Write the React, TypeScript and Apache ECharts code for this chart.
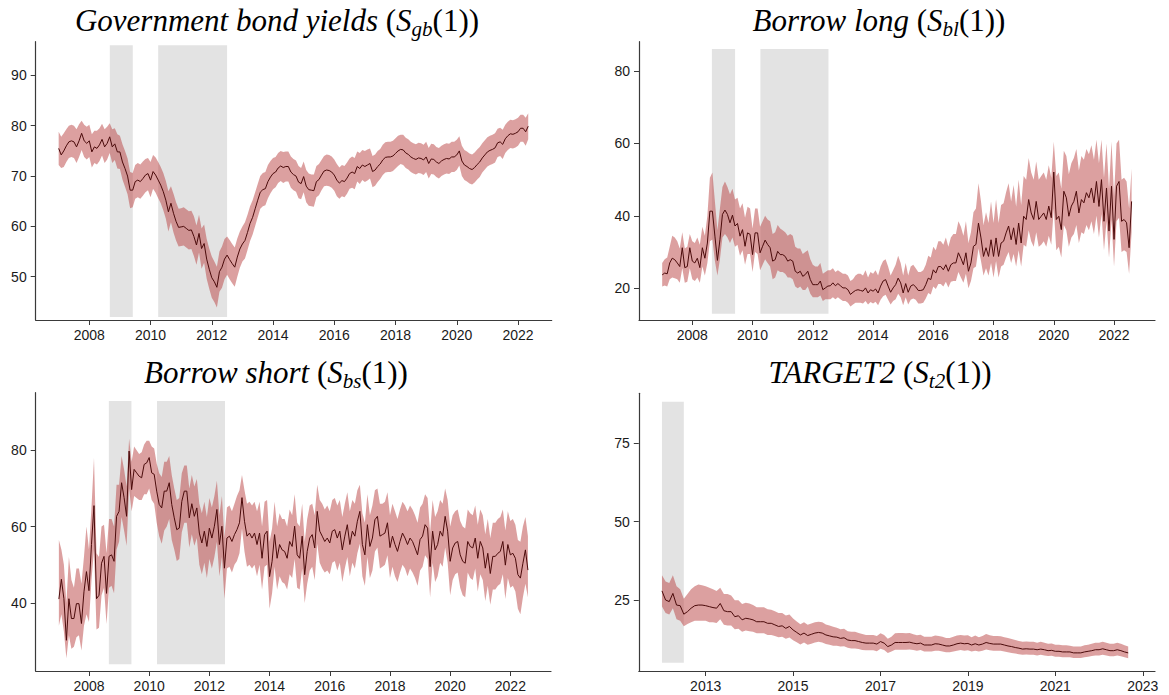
import React, { useEffect, useRef } from "react";
import * as echarts from "echarts";

// ---------------- DATA (monthly observations) ----------------
// Government bond yields, Jan 2007 - May 2022
const gbStart = 2007;
const gbMid = [
  75.5, 74.2, 75.0, 76.0, 76.8, 77.0, 76.8, 75.8, 77.0, 78.5, 77.0, 76.5,
  77.0, 74.8, 75.8, 75.5, 76.2, 77.3, 75.8, 76.5, 77.8, 75.8, 76.4, 74.8,
  74.8, 72.8, 71.5, 70.0, 67.2, 67.2, 68.9, 69.2, 68.9, 69.5, 70.2, 70.5,
  69.2, 70.9, 70.2, 69.2, 68.2, 66.9, 65.2, 62.9, 64.6, 62.6, 61.0, 59.8,
  59.9, 60.0, 59.6, 59.2, 59.3, 58.0, 56.3, 58.6, 55.6, 56.6, 53.5, 51.5,
  49.8, 49.0, 47.9, 51.0, 51.9, 53.5, 54.3, 53.4, 52.6, 51.9, 53.9, 55.5,
  56.5, 57.2, 58.8, 60.6, 61.8, 63.5, 65.2, 66.8, 67.3, 67.5, 68.9, 69.8,
  70.5, 70.8, 71.6, 72.0, 71.7, 71.9, 71.9, 70.8, 70.3, 70.0, 68.8, 68.5,
  69.9, 68.0, 67.3, 67.2, 67.1, 68.9, 69.3, 70.2, 71.0, 71.2, 71.1, 70.8,
  70.2, 69.2, 68.6, 69.1, 68.9, 69.6, 70.5, 70.8, 70.5, 71.9, 71.5, 72.2,
  71.9, 72.2, 72.5, 70.9, 71.2, 71.9, 72.4, 73.2, 73.7, 73.8, 73.8, 74.0,
  74.5, 75.0, 75.3, 75.2, 74.6, 74.3, 73.8, 73.5, 73.3, 73.6, 73.5, 73.2,
  73.8, 72.5, 73.4, 73.3, 72.8, 72.5, 73.0, 73.3, 73.5, 73.4, 73.8, 73.8,
  74.2, 75.0, 73.0, 72.2, 71.9, 71.5, 71.3, 71.7, 72.3, 72.8, 73.6, 74.2,
  74.8, 75.1, 75.3, 75.6, 76.6, 76.8, 76.3, 77.4, 78.0, 78.4, 78.3, 78.5,
  78.8, 79.5, 79.5, 78.8, 79.9,
];
const gbHi = [
  78.8, 77.8, 78.5, 79.3, 80.0, 80.2, 80.0, 79.3, 80.3, 81.0, 80.2, 79.8,
  80.2, 78.3, 79.0, 79.0, 79.5, 80.4, 79.3, 79.8, 80.5, 79.3, 79.5, 78.3,
  78.0, 76.3, 75.0, 73.5, 70.8, 70.6, 72.2, 72.6, 72.3, 72.9, 73.4, 73.6,
  72.8, 74.2, 73.7, 72.8, 71.8, 70.6, 69.0, 67.0, 68.0, 66.5, 64.8, 63.5,
  63.6, 63.8, 63.4, 63.0, 63.1, 62.0, 60.2, 62.3, 59.6, 60.4, 57.5, 55.6,
  54.0, 53.0, 52.0, 55.0, 56.0, 57.5, 58.0, 57.3, 56.5, 55.8, 57.6, 59.0,
  60.0, 60.8, 62.3, 64.0, 65.2, 66.8, 68.4, 70.0, 70.6, 70.8, 72.2, 73.0,
  73.6, 73.8, 74.6, 75.0, 74.8, 74.9, 74.9, 73.9, 73.4, 73.1, 72.0, 71.6,
  72.9, 71.2, 70.5, 70.3, 70.3, 72.0, 72.4, 73.2, 74.0, 74.3, 74.2, 73.9,
  73.3, 72.4, 71.7, 72.2, 72.0, 72.7, 73.5, 73.9, 73.6, 74.9, 74.6, 75.2,
  75.0, 75.3, 75.5, 74.0, 74.3, 75.0, 75.4, 76.2, 76.7, 76.8, 76.8, 77.0,
  77.5, 78.0, 78.2, 78.2, 77.6, 77.3, 76.8, 76.5, 76.3, 76.6, 76.5, 76.2,
  76.8, 75.6, 76.4, 76.3, 75.8, 75.6, 76.0, 76.3, 76.5, 76.4, 76.8, 76.8,
  77.2, 77.9, 76.0, 75.2, 74.9, 74.5, 74.3, 74.7, 75.3, 75.8, 76.5, 77.1,
  77.7, 78.0, 78.2, 78.5, 79.4, 79.6, 79.2, 80.2, 80.8, 81.2, 81.1, 81.3,
  81.6, 82.2, 82.2, 81.6, 82.5,
];
const gbLo = [
  72.2, 71.6, 71.8, 72.8, 73.6, 73.8, 73.6, 72.6, 73.8, 75.2, 73.8, 73.3,
  73.8, 71.7, 72.6, 72.3, 73.0, 74.1, 72.6, 73.3, 74.6, 72.6, 73.2, 71.5,
  71.4, 69.3, 67.9, 66.4, 63.6, 63.8, 65.5, 65.8, 65.5, 66.1, 66.8, 67.2,
  65.8, 67.5, 66.7, 65.6, 64.6, 63.2, 61.5, 59.0, 60.8, 58.8, 57.2, 56.0,
  56.1, 56.2, 55.8, 55.4, 55.5, 54.1, 52.4, 54.8, 51.6, 52.8, 49.6, 47.6,
  45.8, 45.0, 43.9, 47.0, 47.8, 49.5, 50.4, 49.5, 48.7, 48.0, 50.0, 51.8,
  53.0, 53.6, 55.3, 57.1, 58.4, 60.1, 61.8, 63.5, 64.0, 64.2, 65.6, 66.6,
  67.4, 67.8, 68.6, 69.0, 68.6, 68.9, 68.9, 67.7, 67.2, 66.9, 65.6, 65.4,
  66.8, 64.8, 64.1, 64.0, 63.9, 65.8, 66.2, 67.2, 68.0, 68.1, 68.0, 67.7,
  67.1, 66.0, 65.5, 66.0, 65.8, 66.5, 67.5, 67.7, 67.4, 68.9, 68.4, 69.2,
  68.8, 69.1, 69.5, 67.8, 68.1, 68.8, 69.4, 70.2, 70.7, 70.8, 70.8, 71.0,
  71.5, 72.0, 72.4, 72.2, 71.6, 71.3, 70.8, 70.5, 70.3, 70.6, 70.5, 70.2,
  70.8, 69.5, 70.4, 70.3, 69.8, 69.5, 70.0, 70.3, 70.5, 70.4, 70.8, 70.8,
  71.2, 72.1, 70.0, 69.2, 68.9, 68.5, 68.3, 68.7, 69.3, 69.8, 70.7, 71.3,
  71.9, 72.2, 72.4, 72.7, 73.8, 74.0, 73.4, 74.6, 75.2, 75.6, 75.5, 75.7,
  76.0, 76.8, 76.8, 76.0, 77.3,
];

// Borrow long, Jan 2007 - Aug 2022
const blStart = 2007;
const blMid = [
  23.7, 24.2, 24.0, 27.0, 28.3, 27.9, 27.0, 26.0, 31.2, 25.7, 26.0, 31.2,
  27.5, 27.0, 28.3, 25.7, 31.2, 28.3, 32.5, 41.3, 41.3, 34.4, 27.7, 33.4,
  40.4, 41.6, 40.4, 38.1, 40.2, 37.2, 37.9, 34.4, 36.2, 31.6, 35.3, 34.9,
  29.3, 35.3, 35.3, 29.8, 31.6, 33.3, 32.1, 31.2, 27.5, 27.9, 30.2, 29.3,
  29.3, 28.8, 27.5, 27.9, 27.5, 24.7, 24.2, 24.7, 23.3, 23.8, 24.7, 22.4,
  21.0, 21.0, 21.0, 22.0, 19.6, 20.1, 20.6, 20.7, 21.5, 20.7, 21.3, 20.7,
  20.1, 20.1, 19.6, 18.3, 18.9, 19.4, 19.6, 19.4, 19.2, 20.1, 18.7, 19.6,
  19.2, 19.8, 18.7, 20.6, 22.0, 22.4, 20.6, 18.9, 20.1, 21.0, 22.8, 21.5,
  18.7, 21.3, 18.9, 20.6, 21.0, 20.4, 19.4, 19.4, 19.6, 21.0, 22.8, 22.4,
  25.1, 24.2, 26.0, 26.0, 25.1, 26.5, 24.7, 26.5, 27.0, 27.0, 29.8, 28.3,
  26.5, 29.8, 24.7, 27.0, 31.6, 32.1, 38.0, 33.9, 28.8, 31.2, 28.8, 33.4,
  28.8, 33.9, 28.8, 32.5, 33.0, 35.3, 37.2, 33.4, 36.7, 32.1, 38.0, 32.5,
  39.9, 39.0, 44.5, 40.8, 39.0, 44.0, 39.0, 39.9, 40.8, 39.0, 42.7, 39.5,
  52.1, 39.0, 39.9, 36.2, 46.8, 45.0, 39.9, 42.7, 44.0, 46.8, 40.8, 44.5,
  43.6, 46.4, 45.0, 47.7, 43.6, 49.5, 42.6, 50.0, 38.5, 47.7, 35.8, 48.2,
  33.5, 48.2, 49.5, 38.5, 39.0, 38.1, 31.2, 44.0,
];
const blHi = [
  27.0, 28.0, 28.5, 31.5, 34.5, 34.0, 33.0, 31.0, 35.5, 31.0, 31.5, 35.0,
  33.0, 32.5, 34.0, 32.0, 37.0, 34.5, 40.0, 50.5, 52.0, 44.0, 36.0, 42.0,
  48.0, 49.5, 48.0, 46.0, 47.5, 44.5, 45.0, 42.0, 43.5, 39.5, 42.5, 42.0,
  36.5, 42.0, 42.0, 37.0, 38.5, 40.0, 39.0, 38.5, 35.0, 35.5, 37.5, 36.5,
  36.0, 35.5, 34.5, 35.0, 34.5, 31.5, 31.0, 31.0, 29.5, 30.0, 30.5, 28.0,
  26.5, 26.0, 26.0, 27.0, 24.0, 24.5, 25.0, 25.0, 25.5, 24.5, 25.0, 24.5,
  24.0, 24.0, 23.5, 22.0, 22.5, 23.5, 24.0, 24.0, 23.5, 25.0, 23.0, 24.5,
  24.0, 25.0, 23.5, 26.0, 27.5, 28.0, 26.0, 23.5, 25.0, 26.5, 29.0, 27.0,
  23.5, 27.0, 23.5, 26.0, 26.5, 25.5, 24.5, 24.5, 25.0, 26.5, 29.0, 28.5,
  31.5, 30.5, 33.0, 33.0, 32.0, 34.0, 31.5, 34.0, 35.0, 35.0, 38.5, 37.0,
  34.5, 38.5, 32.5, 35.5, 41.0, 42.0, 49.0, 44.0, 37.5, 41.0, 38.0, 44.0,
  38.0, 44.5, 38.0, 43.0, 43.5, 46.5, 49.0, 44.0, 48.5, 42.5, 50.0, 43.0,
  51.0, 50.0, 56.0, 52.0, 50.0, 55.0, 50.0, 51.0, 52.0, 50.0, 54.0, 50.5,
  60.5, 51.0, 52.0, 47.5, 58.0, 56.5, 51.5, 54.5, 56.0, 58.5, 52.5, 56.5,
  55.5, 58.5, 57.0, 59.5, 55.5, 61.0, 54.5, 61.0, 50.5, 60.0, 47.5, 60.5,
  45.5, 60.0, 61.0, 50.0, 50.5, 49.5, 42.0, 53.0,
];
const blLo = [
  20.5, 20.8, 20.5, 22.5, 23.0, 22.8, 22.5, 21.5, 25.5, 21.5, 21.8, 25.5,
  22.5, 22.0, 23.0, 21.5, 26.0, 23.5, 27.0, 33.0, 33.5, 27.5, 23.5, 28.0,
  34.0, 35.0, 34.0, 32.5, 34.0, 31.5, 32.0, 29.0, 30.5, 26.5, 29.5, 29.5,
  24.5, 30.0, 29.5, 25.0, 26.5, 28.0, 27.0, 26.0, 22.5, 23.0, 25.0, 24.5,
  24.5, 24.0, 23.0, 23.0, 22.5, 20.5, 20.0, 20.5, 19.5, 19.5, 20.5, 18.5,
  17.5, 17.5, 17.5, 18.0, 16.5, 17.0, 17.0, 17.0, 17.5, 17.0, 17.5, 17.0,
  16.5, 16.5, 16.0, 15.0, 15.5, 16.0, 16.0, 16.0, 15.8, 16.5, 15.5, 16.2,
  15.8, 16.3, 15.3, 16.8, 17.8, 18.2, 16.8, 15.5, 16.5, 17.0, 18.5, 17.5,
  15.3, 17.5, 15.5, 16.8, 17.2, 16.8, 15.8, 15.8, 16.0, 17.2, 18.7, 18.3,
  20.5, 19.8, 21.2, 21.2, 20.5, 21.8, 20.2, 21.8, 22.0, 22.0, 24.5, 23.0,
  21.5, 24.0, 20.0, 22.0, 25.5, 26.0, 31.0, 27.5, 23.5, 25.5, 23.5, 27.0,
  23.0, 27.5, 23.0, 26.0, 26.5, 28.5, 30.0, 27.0, 29.5, 26.0, 30.5, 26.0,
  32.0, 31.5, 36.0, 33.0, 31.5, 35.5, 31.5, 32.0, 33.0, 31.5, 34.5, 32.0,
  42.0, 30.5, 31.5, 28.5, 37.5, 36.0, 31.5, 34.0, 35.0, 37.5, 32.5, 35.5,
  35.0, 37.5, 36.0, 38.5, 35.0, 40.0, 34.0, 40.5, 30.5, 38.5, 28.5, 39.0,
  26.0, 38.5, 39.5, 30.0, 30.5, 30.0, 24.0, 35.5,
];

// Borrow short, Jan 2007 - Aug 2022
const bsStart = 2007;
const bsMid = [
  41.0, 46.2, 41.1, 30.2, 41.1, 35.9, 35.9, 39.8, 39.8, 34.6, 42.9, 48.2,
  43.2, 55.3, 65.5, 41.1, 42.0, 50.4, 52.2, 42.5, 52.2, 52.6, 50.9, 62.7,
  64.0, 71.5, 67.6, 62.7, 79.8, 69.7, 75.0, 74.1, 73.2, 72.8, 76.3, 76.7,
  78.1, 74.1, 73.7, 69.3, 65.8, 64.9, 69.3, 69.3, 71.5, 65.8, 62.3, 59.2,
  59.6, 66.6, 69.3, 69.3, 62.3, 66.0, 62.7, 64.9, 58.3, 55.7, 58.8, 54.8,
  59.6, 57.0, 60.1, 64.5, 55.3, 60.1, 49.1, 57.0, 57.5, 56.1, 57.9, 59.2,
  61.0, 67.6, 61.4, 57.5, 58.3, 57.0, 58.3, 55.3, 58.3, 51.7, 57.9, 58.8,
  46.9, 50.9, 57.9, 51.7, 55.3, 53.9, 53.5, 51.7, 56.1, 54.8, 60.1, 52.6,
  51.7, 57.5, 47.4, 53.5, 57.0, 57.9, 54.4, 64.0, 58.8, 57.5, 56.1, 57.0,
  55.7, 58.8, 59.2, 57.0, 58.8, 53.9, 57.5, 60.5, 55.3, 58.8, 57.5, 61.4,
  64.0, 55.3, 52.6, 60.5, 54.8, 57.0, 61.8, 62.7, 57.5, 57.9, 58.3, 61.0,
  54.5, 57.5, 55.3, 53.5, 56.1, 58.3, 57.0, 55.3, 57.0, 56.1, 54.4, 52.6,
  56.6, 57.5, 60.5, 59.6, 49.5, 58.8, 53.9, 55.3, 58.8, 57.5, 62.7, 58.8,
  50.9, 54.4, 55.7, 56.1, 52.6, 50.9, 50.4, 56.1, 54.8, 54.4, 57.0, 51.7,
  56.1, 54.4, 49.1, 53.0, 47.7, 52.2, 52.2, 53.0, 53.5, 56.1, 49.9, 55.3,
  52.6, 53.0, 51.7, 47.4, 46.5, 50.4, 53.9, 48.6,
];
const bsHi = [
  56.5, 54.0, 50.0, 40.0, 52.0, 46.0, 44.0, 49.0, 49.0, 45.0, 52.0, 60.0,
  54.0, 65.0, 78.0, 53.0, 52.0, 60.0, 60.5, 53.0, 62.0, 62.0, 60.0, 71.0,
  71.0, 78.5, 75.0, 70.5, 83.0, 77.0, 81.0, 80.0, 79.0, 79.5, 81.5, 82.5,
  82.5, 81.0, 80.5, 76.5, 74.0, 73.0, 77.0, 77.0, 78.5, 73.5, 70.0, 67.0,
  67.5, 74.0, 76.0, 76.0, 70.0, 73.5, 70.5, 72.5, 66.0, 63.5, 66.5, 62.5,
  67.5, 65.0, 68.0, 72.0, 63.0, 68.0, 57.0, 65.0, 65.5, 64.0, 66.0, 68.0,
  69.5, 73.5, 69.5, 66.0, 66.5, 65.5, 66.5, 64.0, 66.5, 60.0, 66.5, 67.0,
  56.0, 59.5, 66.5, 60.0, 63.5, 62.0, 62.0, 60.0, 64.5, 63.0, 68.5, 61.0,
  60.0, 66.0, 56.0, 62.0, 65.5, 66.0, 63.0, 71.0, 67.0, 66.0, 64.5, 65.5,
  64.0, 67.0, 67.5, 65.5, 67.0, 62.5, 66.0, 69.0, 64.0, 67.0, 66.0, 69.5,
  71.0, 63.5, 61.0, 68.5, 63.0, 65.5, 69.5, 70.0, 66.0, 66.0, 66.5, 69.0,
  63.0, 66.0, 64.0, 62.0, 64.5, 66.5, 65.5, 64.0, 65.5, 64.5, 63.0, 61.0,
  65.0, 66.0, 68.5, 67.5, 58.5, 67.0, 62.5, 64.0, 67.0, 66.0, 70.0, 67.0,
  60.0, 63.0, 64.0, 64.5, 61.5, 60.0, 59.5, 64.5, 63.5, 63.0, 65.5, 60.5,
  64.5, 63.0, 58.0, 62.0, 57.0, 61.0, 61.0, 62.0, 62.5, 64.5, 59.0, 64.0,
  61.5, 62.0, 60.5, 56.5, 56.0, 60.0, 62.5, 57.5,
];
const bsLo = [
  34.0, 37.0, 32.5, 25.5, 31.5, 28.0, 28.5, 31.0, 31.5, 27.5, 34.0, 37.0,
  35.0, 46.0, 54.0, 33.0, 33.5, 42.0, 44.0, 34.5, 44.0, 44.5, 42.5, 54.0,
  56.0, 62.5, 59.0, 55.0, 70.0, 64.0, 68.0, 67.5, 67.0, 67.0, 68.5, 68.5,
  70.0, 67.0, 66.0, 61.0, 57.5, 55.5, 59.0, 60.0, 62.0, 56.5, 54.0, 51.0,
  51.5, 58.5, 61.0, 61.0, 54.5, 58.0, 55.0, 57.0, 50.0, 47.5, 50.5, 46.5,
  51.5, 49.0, 52.0, 56.0, 47.0, 52.0, 41.0, 49.0, 49.5, 48.0, 50.0, 51.0,
  53.0, 59.5, 53.5, 49.5, 50.0, 49.0, 50.0, 47.0, 50.0, 43.5, 49.5, 50.0,
  38.5, 42.5, 49.5, 43.5, 47.0, 45.5, 45.0, 43.5, 47.5, 46.5, 51.5, 44.0,
  43.5, 49.0, 40.0, 45.0, 48.5, 49.5, 46.0, 55.5, 50.5, 49.0, 48.0, 48.5,
  47.5, 50.5, 51.0, 48.5, 50.5, 45.5, 49.0, 52.0, 47.0, 50.5, 49.0, 53.0,
  55.5, 47.0, 44.5, 52.0, 46.5, 48.5, 53.5, 54.5, 49.0, 49.5, 50.0, 52.5,
  46.5, 49.5, 47.0, 45.5, 48.0, 50.0, 49.0, 47.0, 49.0, 48.0, 46.5, 44.5,
  48.5, 49.5, 52.5, 51.5, 41.5, 50.5, 45.5, 47.0, 50.5, 49.5, 54.5, 50.5,
  42.0, 46.0, 47.5, 48.0, 44.0, 42.0, 41.5, 48.0, 46.5, 46.0, 49.0, 43.0,
  47.5, 46.0, 40.5, 44.5, 39.5, 43.5, 43.5, 44.5, 45.0, 47.5, 41.0, 46.5,
  44.0, 44.5, 43.0, 38.5, 37.0, 41.5, 45.0, 41.5,
];

// TARGET2, Jan 2012 - Sep 2022
const t2Start = 2012;
const t2Mid = [
  28.0, 25.1, 24.6, 27.2, 23.5, 23.3, 20.6, 21.4, 22.5, 23.3, 23.5, 23.5,
  23.3, 23.0, 22.7, 22.5, 24.0, 21.7, 21.4, 21.4, 19.8, 20.1, 18.8, 19.3,
  19.1, 18.8, 18.2, 18.2, 18.2, 17.7, 17.7, 17.2, 16.7, 16.9, 16.1, 16.7,
  15.6, 14.8, 14.0, 14.6, 13.8, 14.2, 14.6, 14.8, 14.6, 14.0, 13.7, 13.4,
  13.3, 12.9, 13.1, 12.4, 12.2, 12.2, 11.9, 11.6, 11.4, 11.4, 11.4, 11.1,
  11.9, 11.4, 10.3, 10.8, 11.6, 11.6, 11.6, 11.6, 11.7, 11.4, 11.2, 11.4,
  10.8, 10.8, 10.8, 11.2, 11.1, 10.8, 10.5, 10.5, 10.8, 11.2, 11.4, 11.2,
  11.3, 10.8, 11.2, 10.8, 11.1, 11.6, 11.3, 11.1, 11.1, 11.1, 10.8, 10.5,
  10.3, 10.0, 9.8, 9.5, 9.6, 9.5, 9.5, 9.3, 9.5, 9.3, 9.0, 9.1,
  8.8, 8.8, 8.6, 8.6, 8.6, 8.3, 8.3, 8.3, 8.6, 8.8, 9.0, 9.3,
  9.3, 9.6, 9.3, 9.0, 9.0, 9.3, 9.0, 8.6, 8.3,
];
const t2Hi = [
  33.0, 31.0, 30.5, 33.0, 29.5, 28.5, 25.5, 27.0, 28.5, 29.5, 30.0, 29.8,
  29.5, 29.0, 28.5, 28.0, 29.0, 27.0, 27.0, 26.5, 25.0, 25.0, 23.8, 24.2,
  24.0, 23.5, 22.8, 22.8, 22.8, 22.2, 22.0, 21.5, 21.0, 21.0, 20.2, 20.5,
  19.2, 18.3, 17.4, 18.0, 17.2, 17.6, 18.0, 18.2, 18.0, 17.3, 17.0, 16.6,
  16.3, 15.8, 16.0, 15.2, 15.0, 15.0, 14.6, 14.3, 14.0, 14.0, 14.0, 13.7,
  14.5, 14.0, 12.8, 13.4, 14.5, 14.6, 14.6, 14.5, 14.6, 14.2, 13.9, 14.1,
  13.4, 13.4, 13.4, 13.8, 13.7, 13.4, 13.0, 13.0, 13.4, 13.8, 14.0, 13.8,
  13.9, 13.3, 13.8, 13.3, 13.7, 14.3, 13.9, 13.7, 13.7, 13.6, 13.3, 13.0,
  12.7, 12.4, 12.1, 11.8, 11.9, 11.8, 11.8, 11.5, 11.8, 11.5, 11.2, 11.3,
  10.9, 10.9, 10.7, 10.7, 10.6, 10.3, 10.3, 10.3, 10.7, 10.9, 11.2, 11.5,
  11.5, 11.8, 11.5, 11.2, 11.2, 11.5, 11.2, 10.7, 10.3,
];
const t2Lo = [
  23.0, 21.0, 20.5, 22.5, 19.0, 18.5, 16.8, 17.5, 18.0, 18.5, 18.5, 18.5,
  18.5, 18.0, 18.0, 17.8, 19.0, 17.2, 17.0, 17.0, 15.8, 16.0, 15.0, 15.4,
  15.2, 15.0, 14.5, 14.5, 14.5, 14.0, 14.0, 13.7, 13.3, 13.4, 12.8, 13.2,
  12.3, 11.7, 11.0, 11.6, 10.9, 11.2, 11.6, 11.8, 11.6, 11.1, 10.9, 10.6,
  10.6, 10.3, 10.4, 9.9, 9.7, 9.7, 9.5, 9.2, 9.1, 9.1, 9.1, 8.8,
  9.6, 9.2, 8.3, 8.7, 9.3, 9.3, 9.3, 9.3, 9.4, 9.2, 9.0, 9.2,
  8.7, 8.7, 8.7, 9.0, 9.0, 8.7, 8.5, 8.5, 8.7, 9.0, 9.2, 9.0,
  9.1, 8.7, 9.0, 8.7, 9.0, 9.4, 9.1, 9.0, 9.0, 9.0, 8.7, 8.5,
  8.3, 8.1, 7.9, 7.7, 7.8, 7.7, 7.7, 7.5, 7.7, 7.5, 7.3, 7.4,
  7.1, 7.1, 6.9, 6.9, 6.9, 6.7, 6.7, 6.7, 6.9, 7.1, 7.3, 7.5,
  7.5, 7.7, 7.5, 7.2, 7.2, 7.5, 7.2, 6.9, 6.6,
];

// Shaded periods [start, end, yLow, yHigh]
const gbSpans = [[2008.67, 2009.42, 42.0, 96.0], [2010.25, 2012.5, 42.0, 96.0]];
const blSpans = [[2008.65, 2009.42, 13.0, 86.1], [2010.26, 2012.52, 13.0, 86.1]];
const bsSpans = [[2008.66, 2009.41, 23.9, 92.9], [2010.26, 2012.52, 23.9, 92.9]];
const t2Spans = [[2012.0, 2012.5, 5.2, 88.1]];

// Tick labels
const yearTicksA = [2008, 2010, 2012, 2014, 2016, 2018, 2020, 2022];
const yearTicksB = [2013, 2015, 2017, 2019, 2021, 2023];
const gbYTicks = [50, 60, 70, 80, 90];
const blYTicks = [20, 40, 60, 80];
const bsYTicks = [40, 60, 80];
const t2YTicks = [25, 50, 75];

// Titles
const gbTitle = "{t|Government bond yields }{r|(}{t|S}{sub|gb}{r|(1))}";
const blTitle = "{t|Borrow long }{r|(}{t|S}{sub|bl}{r|(1))}";
const bsTitle = "{t|Borrow short }{r|(}{t|S}{sub|bs}{r|(1))}";
const t2Title = "{t|TARGET2 }{r|(}{t|S}{sub|t2}{r|(1))}";

// ---------------- STYLE ----------------
const SERIF = "'Liberation Serif', 'DejaVu Serif', serif";
const SANS = "'Liberation Sans', Arial, sans-serif";
const AXIS_COLOR = "#3a3a3a";
const BAND = "rgba(186, 66, 66, 0.5)";
const LINE = "#4a0a0a";
const SPAN = "#e3e3e3";

const panels = [
  { start: gbStart, mid: gbMid, hi: gbHi, lo: gbLo, spans: gbSpans, xTicks: yearTicksA, yTicks: gbYTicks,
    xMin: 2006.25, xMax: 2023.1, yMin: 41.4, yMax: 96.7,
    grid: { left: 35.7, top: 41.7, width: 516, height: 278.3 }, title: gbTitle, tx: 277, ty: 20 },
  { start: blStart, mid: blMid, hi: blHi, lo: blLo, spans: blSpans, xTicks: yearTicksA, yTicks: blYTicks,
    xMin: 2006.23, xMax: 2023.36, yMin: 11.24, yMax: 88.1,
    grid: { left: 639, top: 41.7, width: 516, height: 278.3 }, title: blTitle, tx: 879, ty: 20 },
  { start: bsStart, mid: bsMid, hi: bsHi, lo: bsLo, spans: bsSpans, xTicks: yearTicksA, yTicks: bsYTicks,
    xMin: 2006.23, xMax: 2023.35, yMin: 22.15, yMax: 95.1,
    grid: { left: 35.7, top: 392.7, width: 515.3, height: 278.3 }, title: bsTitle, tx: 276, ty: 372 },
  { start: t2Start, mid: t2Mid, hi: t2Hi, lo: t2Lo, spans: t2Spans, xTicks: yearTicksB, yTicks: t2YTicks,
    xMin: 2011.47, xMax: 2023.28, yMin: 2.54, yMax: 90.8,
    grid: { left: 638.8, top: 393.3, width: 516.2, height: 277.7 }, title: t2Title, tx: 880, ty: 372 },
];

function buildOption() {
  const grids: any[] = [];
  const xAxes: any[] = [];
  const yAxes: any[] = [];
  const series: any[] = [];
  const graphics: any[] = [];

  panels.forEach((p, idx) => {
    const n = Math.min(p.mid.length, p.hi.length, p.lo.length);
    const xs: number[] = [];
    for (let i = 0; i < n; i++) xs.push(p.start + i / 12);

    grids.push({ ...p.grid, containLabel: false, outerBoundsMode: "none" });
    xAxes.push({
      type: "value", gridIndex: idx, min: p.xMin, max: p.xMax,
      splitLine: { show: false },
      axisLine: { show: true, onZero: false, lineStyle: { color: AXIS_COLOR, width: 1.2 } },
      axisTick: { show: true, inside: false, length: 5, customValues: p.xTicks, lineStyle: { color: AXIS_COLOR, width: 1 } },
      axisLabel: { show: true, customValues: p.xTicks, formatter: (v: number) => String(v), fontSize: 14, fontFamily: SANS, color: "#1a1a1a", margin: 8 },
    });
    yAxes.push({
      type: "value", gridIndex: idx, min: p.yMin, max: p.yMax,
      splitLine: { show: false },
      axisLine: { show: true, onZero: false, lineStyle: { color: AXIS_COLOR, width: 1.2 } },
      axisTick: { show: true, inside: false, length: 5, customValues: p.yTicks, lineStyle: { color: AXIS_COLOR, width: 1 } },
      axisLabel: { show: true, customValues: p.yTicks, formatter: (v: number) => String(v), fontSize: 14, fontFamily: SANS, color: "#1a1a1a", margin: 9 },
    });

    series.push({
      type: "custom", xAxisIndex: idx, yAxisIndex: idx, z: 1, silent: true,
      encode: { x: [0, 1], y: [2, 3] },
      data: p.spans,
      renderItem: (params: any, api: any) => {
        const a = api.coord([api.value(0), api.value(3)]);
        const b = api.coord([api.value(1), api.value(2)]);
        return { type: "rect", shape: { x: a[0], y: a[1], width: b[0] - a[0], height: b[1] - a[1] }, style: { fill: SPAN } };
      },
    });

    series.push({
      type: "custom", xAxisIndex: idx, yAxisIndex: idx, z: 2, silent: true,
      encode: { x: 0, y: 1 },
      data: [[xs[0], p.mid[0]]],
      renderItem: (params: any, api: any) => {
        const pts: number[][] = [];
        for (let i = 0; i < n; i++) pts.push(api.coord([xs[i], p.hi[i]]));
        for (let i = n - 1; i >= 0; i--) pts.push(api.coord([xs[i], p.lo[i]]));
        return { type: "polygon", shape: { points: pts }, style: { fill: BAND, stroke: null } };
      },
    });

    series.push({
      type: "line", xAxisIndex: idx, yAxisIndex: idx, z: 3, silent: true,
      showSymbol: false, symbol: "none",
      lineStyle: { color: LINE, width: 1 },
      data: xs.map((x, i) => [x, p.mid[i]]),
    });

    graphics.push({
      type: "text", x: p.tx, y: p.ty, z: 10,
      style: {
        text: p.title,
        align: "center", verticalAlign: "middle",
        textAlign: "center", textVerticalAlign: "middle",
        fill: "#000",
        rich: {
          t: { fontFamily: SERIF, fontStyle: "italic", fontSize: 31, lineHeight: 36, fill: "#000", color: "#000" },
          r: { fontFamily: SERIF, fontStyle: "normal", fontSize: 31, lineHeight: 36, fill: "#000", color: "#000" },
          sub: { fontFamily: SERIF, fontStyle: "italic", fontSize: 21, lineHeight: 36, padding: [17, 0, 0, 0], fill: "#000", color: "#000" },
        },
      },
    });
  });

  return {
    animation: false,
    backgroundColor: "#ffffff",
    grid: grids,
    xAxis: xAxes,
    yAxis: yAxes,
    series,
    graphic: { elements: graphics },
  };
}

export default function App() {
  const ref = useRef<HTMLDivElement>(null);
  useEffect(() => {
    if (!ref.current) return;
    const chart = echarts.init(ref.current, null, { renderer: "svg" });
    chart.setOption(buildOption() as any);
    return () => chart.dispose();
  }, []);
  return (
    <div
      ref={ref}
      style={{ position: "absolute", left: 0, top: 0, width: 1169, height: 695, background: "#fff" }}
    />
  );
}
